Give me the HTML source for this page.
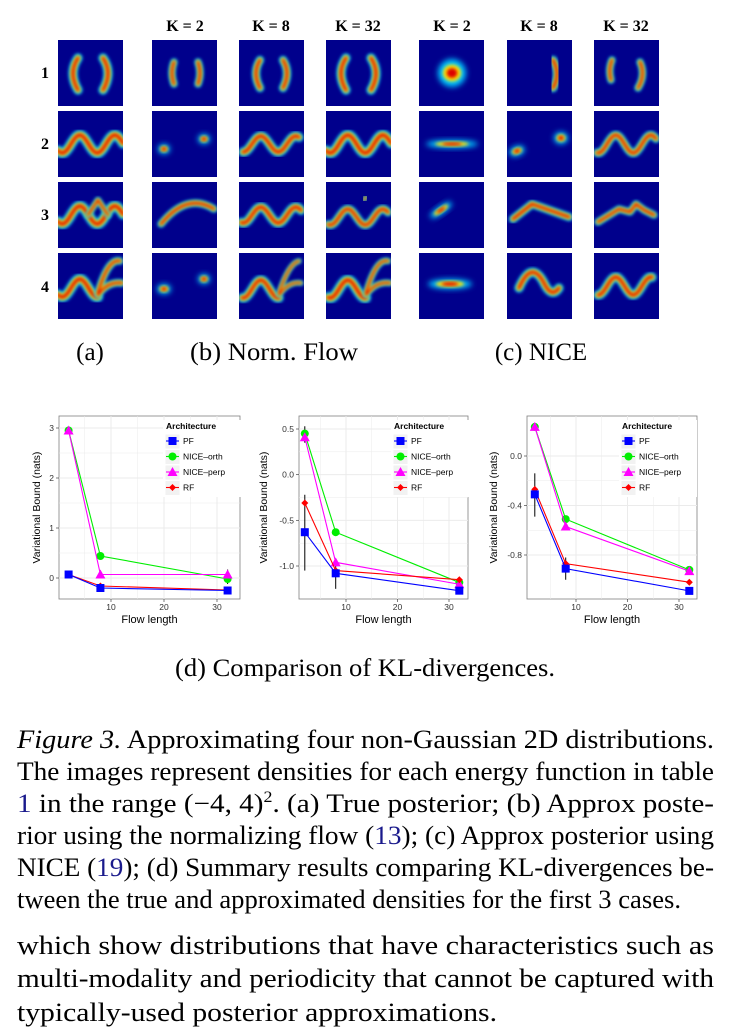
<!DOCTYPE html>
<html><head><meta charset="utf-8">
<style>
html,body{margin:0;padding:0;background:#fff;}
svg{display:block;}
.ser{font-family:"Liberation Serif",serif;}
.sans{font-family:"Liberation Sans",sans-serif;}
</style></head>
<body>
<svg id="root" width="740" height="1036" viewBox="0 0 740 1036" xmlns="http://www.w3.org/2000/svg">
<defs>
<filter id="bl" x="-30%" y="-30%" width="160%" height="160%"><feGaussianBlur stdDeviation="1.6"/></filter>
<filter id="bl2" x="-50%" y="-50%" width="200%" height="200%"><feGaussianBlur stdDeviation="3"/></filter>
</defs>
<g id="tiles"></g>
<g class="ser" font-weight="bold" font-size="16" fill="#000" text-anchor="middle">
<text x="185" y="31">K = 2</text>
<text x="271" y="31">K = 8</text>
<text x="358" y="31">K = 32</text>
<text x="452" y="31">K = 2</text>
<text x="539" y="31">K = 8</text>
<text x="626" y="31">K = 32</text>
<text x="45" y="78">1</text>
<text x="45" y="149">2</text>
<text x="45" y="220">3</text>
<text x="45" y="292">4</text>
</g>
<g class="ser" font-size="25" fill="#000" text-anchor="middle">
<text x="90" y="360">(a)</text>
<text x="274" y="360" textLength="168" lengthAdjust="spacingAndGlyphs">(b) Norm. Flow</text>
<text x="541" y="360">(c) NICE</text>
<text x="365" y="676" textLength="380" lengthAdjust="spacingAndGlyphs">(d) Comparison of KL-divergences.</text>
</g>
<g id="charts" class="sans"></g>
<g class="ser" font-size="26" fill="#000">
<text x="17" y="748" textLength="697" lengthAdjust="spacingAndGlyphs"><tspan font-style="italic">Figure 3.</tspan> Approximating four non-Gaussian 2D distributions.</text>
<text x="17" y="780" textLength="697" lengthAdjust="spacingAndGlyphs">The images represent densities for each energy function in table</text>
<text x="17" y="812" textLength="697" lengthAdjust="spacingAndGlyphs"><tspan fill="#1a1a8c">1</tspan> in the range (−4, 4)<tspan font-size="16" dy="-10">2</tspan><tspan dy="10">.  (a) True posterior; (b) Approx poste-</tspan></text>
<text x="17" y="844" textLength="697" lengthAdjust="spacingAndGlyphs">rior using the normalizing flow (<tspan fill="#1a1a8c">13</tspan>); (c) Approx posterior using</text>
<text x="17" y="876" textLength="697" lengthAdjust="spacingAndGlyphs">NICE (<tspan fill="#1a1a8c">19</tspan>); (d) Summary results comparing KL-divergences be-</text>
<text x="17" y="908" textLength="664" lengthAdjust="spacingAndGlyphs">tween the true and approximated densities for the first 3 cases.</text>
</g>
<g class="ser" font-size="26" fill="#000">
<text x="17" y="954" textLength="697" lengthAdjust="spacingAndGlyphs">which show distributions that have characteristics such as</text>
<text x="17" y="987" textLength="697" lengthAdjust="spacingAndGlyphs">multi-modality and periodicity that cannot be captured with</text>
<text x="17" y="1021" textLength="480" lengthAdjust="spacingAndGlyphs">typically-used posterior approximations.</text>
</g>
</svg>
<script>
// ===== Chart data =====
const flowLength = [2, 8, 32];
const chartNames = ["kl-chart-1", "kl-chart-2", "kl-chart-3"];
const seriesNames = ["PF", "NICE–orth", "NICE–perp", "RF"];
const xTicks = [10, 20, 30];
const yTicks1 = [0, 1, 2, 3];
const yTickLabels1 = ["0", "1", "2", "3"];
const yTicks2 = [0.5, 0.0, -0.5, -1.0];
const yTickLabels2 = ["0.5", "0.0", "-0.5", "-1.0"];
const yTicks3 = [0.0, -0.4, -0.8];
const yTickLabels3 = ["0.0", "-0.4", "-0.8"];
// chart 1 values
const pf1 = [0.07, -0.20, -0.25];
const orth1 = [2.95, 0.44, -0.02];
const perp1 = [2.95, 0.07, 0.07];
const rf1 = [0.07, -0.16, -0.24];
// chart 2 values
const pf2 = [-0.63, -1.08, -1.27];
const orth2 = [0.45, -0.63, -1.18];
const perp2 = [0.41, -0.96, -1.20];
const rf2 = [-0.31, -1.05, -1.15];
// chart 3 values
const pf3 = [-0.31, -0.91, -1.09];
const orth3 = [0.235, -0.51, -0.92];
const perp3 = [0.235, -0.57, -0.93];
const rf3 = [-0.27, -0.87, -1.02];
// error bars
const err1x = [32];
const err1lo = [-0.12];
const err1hi = [0.17];
const err2x = [2, 8, 2];
const err2lo = [-1.05, -1.25, 0.35];
const err2hi = [-0.22, -0.97, 0.53];
const err3x = [2, 8];
const err3lo = [-0.49, -1.0];
const err3hi = [-0.14, -0.82];

const NS = "http://www.w3.org/2000/svg";
function mk(tag, attrs, parent) {
  const e = document.createElementNS(NS, tag);
  for (const k in attrs) e.setAttribute(k, attrs[k]);
  if (parent) parent.appendChild(e);
  return e;
}
const colors = ["#0000ff", "#00ee00", "#ff00ff", "#ff0000"];

function drawMarker(g, kind, x, y, c) {
  let m;
  if (kind === 0) m = mk("rect", {x: x-4, y: y-4, width: 8, height: 8, fill: c}, g);
  else if (kind === 1) m = mk("circle", {cx: x, cy: y, r: 4, fill: c}, g);
  else if (kind === 2) m = mk("path", {d: `M${x},${y-5} L${x+5},${y+4} L${x-5},${y+4}Z`, fill: c}, g);
  else m = mk("path", {d: `M${x},${y-3.5} L${x+3.5},${y} L${x},${y+3.5} L${x-3.5},${y}Z`, fill: c}, g);
  return m;
}

function drawChart(cfg) {
  const root = document.getElementById("charts");
  const g = mk("g", {}, root);
  
  
  const L = cfg.left, R = cfg.right, T = 416, B = 599;
  const sx = v => cfg.x10 + (v - 10) * (cfg.x30 - cfg.x10) / 20;
  const sy = v => cfg.py0 + (v - cfg.v0) * (cfg.py1 - cfg.py0) / (cfg.v1 - cfg.v0);
  mk("rect", {x: L, y: T, width: R-L, height: B-T, fill: "#fff", stroke: "#7f7f7f", "stroke-width": 0.8}, g);
  const gg = mk("g", {stroke: "#ebebeb"}, g);
  
  
  [5,15,25].forEach(v => mk("line", {x1: sx(v), x2: sx(v), y1: T, y2: B, "stroke-width": 0.5}, gg));
  xTicks.forEach(v => mk("line", {x1: sx(v), x2: sx(v), y1: T, y2: B, "stroke-width": 1}, gg));
  for (let i = 0; i < cfg.yt.length; i++) {
    mk("line", {x1: L, x2: R, y1: sy(cfg.yt[i]), y2: sy(cfg.yt[i]), "stroke-width": 1}, gg);
    if (i < cfg.yt.length - 1) { const m = (cfg.yt[i] + cfg.yt[i+1]) / 2; mk("line", {x1: L, x2: R, y1: sy(m), y2: sy(m), "stroke-width": 0.5}, gg); }
  }
  for (let i = 0; i < cfg.yt.length; i++) {
    const y = sy(cfg.yt[i]);
    mk("line", {x1: L-3, x2: L, y1: y, y2: y, stroke: "#444", "stroke-width": 0.7}, g);
    const t = mk("text", {x: L-5, y: y+3, "font-size": 8.5, "text-anchor": "end", fill: "#333"}, g);
    t.textContent = cfg.ytl[i];
    
    
  }
  xTicks.forEach(v => {
    mk("line", {x1: sx(v), x2: sx(v), y1: B, y2: B+3, stroke: "#444", "stroke-width": 0.7}, g);
    const t = mk("text", {x: sx(v), y: B+11, "font-size": 8.5, "text-anchor": "middle", fill: "#333"}, g);
    t.textContent = v;
    
    
  });
  const xt = mk("text", {x: (L+R)/2, y: B+24, "font-size": 11, "text-anchor": "middle"}, g);
  xt.textContent = "Flow length";
  
  
  const yx = cfg.yTitleX, ym = (T+B)/2;
  const yt = mk("text", {x: yx, y: ym, "font-size": 10.5, "text-anchor": "middle", transform: `rotate(-90 ${yx} ${ym})`}, g);
  yt.textContent = "Variational Bound (nats)";
  
  
  for (let i = 0; i < cfg.ex.length; i++) {
    const e = mk("line", {x1: sx(cfg.ex[i]), x2: sx(cfg.ex[i]), y1: sy(cfg.elo[i]), y2: sy(cfg.ehi[i]), stroke: "#000", "stroke-width": 1}, g);
    
    
  }
  const order = [1, 2, 3, 0];
  order.forEach(si => {
    const vals = cfg.series[si];
    const sg = mk("g", {}, g);
    
    
    const pts = flowLength.map((f, i) => sx(f) + "," + sy(vals[i])).join(" ");
    mk("polyline", {points: pts, fill: "none", stroke: colors[si], "stroke-width": 1.1}, sg);
    flowLength.forEach((f, i) => {
      const m = drawMarker(sg, si, sx(f), sy(vals[i]), colors[si]);
      
      
    });
  });
  const lg = mk("g", {}, g);
  
  
  const lx = cfg.legX, ly = 420;
  mk("rect", {x: lx-3, y: ly, width: 78, height: 77, fill: "#fff"}, lg);
  const lt = mk("text", {x: lx, y: ly+9, "font-size": 8.5, "font-weight": "bold"}, lg);
  lt.textContent = "Architecture";
  
  
  for (let i = 0; i < 4; i++) {
    const ey = ly + 21 + i * 15.5;
    const eg = mk("g", {}, lg);
    
    
    mk("rect", {x: lx-1, y: ey-7, width: 15, height: 15, fill: "#f2f2f2", stroke: "#fff"}, eg);
    mk("line", {x1: lx, x2: lx+13, y1: ey, y2: ey, stroke: colors[i], "stroke-width": 1.1}, eg);
    drawMarker(eg, i, lx+6.5, ey, colors[i]);
    const t = mk("text", {x: lx+17, y: ey+3, "font-size": 8.5}, eg);
    t.textContent = seriesNames[i];
  }
}

drawChart({name: chartNames[0], left: 59, right: 240, x10: 111, x30: 217, v0: 3, py0: 428, v1: 0, py1: 578,
  yt: yTicks1, ytl: yTickLabels1, series: [pf1, orth1, perp1, rf1], ex: err1x, elo: err1lo, ehi: err1hi, legX: 166, yTitleX: 40});
drawChart({name: chartNames[1], left: 299, right: 468, x10: 346, x30: 449, v0: 0.5, py0: 429, v1: -1.0, py1: 566,
  yt: yTicks2, ytl: yTickLabels2, series: [pf2, orth2, perp2, rf2], ex: err2x, elo: err2lo, ehi: err2hi, legX: 394, yTitleX: 267});
drawChart({name: chartNames[2], left: 527, right: 697, x10: 576, x30: 679, v0: 0.0, py0: 456, v1: -0.8, py1: 555,
  yt: yTicks3, ytl: yTickLabels3, series: [pf3, orth3, perp3, rf3], ex: err3x, elo: err3lo, ehi: err3hi, legX: 622, yTitleX: 497});

// ===== Density tiles =====
const colX = [58, 152, 239, 326, 419, 507, 594];
const rowY = [40, 111, 182, 253];
const tiles = document.getElementById("tiles");
function sinePts(x0, x1, amp, off, per, cy) {
  let p = [];
  for (let x = x0; x <= x1; x += 1) p.push(x + "," + (cy - amp * Math.sin(2 * Math.PI * (x - off) / per)).toFixed(1));
  return "M" + p.join(" L");
}
function jet(g, d, w) {
  mk("path", {d: d, fill: "none", stroke: "#00c8ff", "stroke-width": w, "stroke-linecap": "round", "stroke-linejoin": "round", filter: "url(#bl)"}, g);
  mk("path", {d: d, fill: "none", stroke: "#ffe000", "stroke-width": w * 0.6, "stroke-linecap": "round", "stroke-linejoin": "round", filter: "url(#bl)"}, g);
  mk("path", {d: d, fill: "none", stroke: "#dd0000", "stroke-width": w * 0.3, "stroke-linecap": "round", "stroke-linejoin": "round", filter: "url(#bl)"}, g);
}
function blob(g, cx, cy, rx, ry, rot) {
  const t = `rotate(${rot||0} ${cx} ${cy})`;
  mk("ellipse", {cx, cy, rx, ry, fill: "#00c8ff", transform: t, filter: "url(#bl2)"}, g);
  mk("ellipse", {cx, cy, rx: rx*0.65, ry: ry*0.6, fill: "#ffe000", transform: t, filter: "url(#bl)"}, g);
  mk("ellipse", {cx, cy, rx: rx*0.38, ry: ry*0.35, fill: "#dd0000", transform: t, filter: "url(#bl)"}, g);
}
const arcs = "M20,18 Q10,33 20,50 M45,18 Q55,33 45,50";
const sine = sinePts(0, 65, 9, 13, 35, 33);
const tileDefs = [
  [g => jet(g, arcs, 9), g => jet(g, "M22,22 Q18,33 22,44 M46,22 Q50,33 46,44", 7), g => jet(g, "M21,20 Q13,33 21,48 M44,20 Q52,33 44,48", 8), g => jet(g, arcs, 9),
   g => blob(g, 33, 33, 14, 14), g => jet(g, "M46,20 Q54,34 46,48", 8), g => jet(g, "M18,20 Q14,30 17,40 M46,22 Q52,35 44,48", 7)],
  [g => jet(g, sine, 10), g => { blob(g, 12, 38, 6, 5); blob(g, 52, 28, 6, 5); }, g => jet(g, sinePts(4, 60, 8, 13, 35, 33), 9), g => jet(g, sine, 10),
   g => blob(g, 33, 33, 26, 4), g => { blob(g, 10, 40, 8, 5, -20); blob(g, 54, 27, 7, 6); }, g => jet(g, sinePts(3, 62, 9, 13, 35, 33), 8)],
  [g => { jet(g, sine, 10); jet(g, "M30,33 L40,18 L50,33", 6); }, g => jet(g, "M9,42 Q35,10 62,27", 7), g => jet(g, sinePts(2, 62, 8, 13, 35, 33), 9), g => { jet(g, sinePts(2, 62, 8, 13, 35, 35), 8); jet(g, "M38,18 L40,15", 4); },
   g => blob(g, 22, 28, 13, 4, -35), g => jet(g, "M6,37 L25,22 L62,35", 8), g => jet(g, "M4,40 L25,27 L36,30 L42,22 L50,28 L60,33", 7)],
  [g => { jet(g, sinePts(0, 40, 9, 13, 35, 35), 10); jet(g, "M40,40 Q50,5 62,8 M40,42 Q50,28 64,30", 7); }, g => { blob(g, 12, 36, 7, 5); blob(g, 52, 26, 6, 5); }, g => { jet(g, sinePts(3, 40, 9, 13, 35, 36), 9); jet(g, "M40,40 Q50,10 60,8 M40,42 Q50,28 62,30", 5); }, g => { jet(g, sinePts(2, 40, 9, 13, 35, 36), 10); jet(g, "M40,40 Q50,5 62,8 M40,42 Q50,28 64,30", 6); },
   g => blob(g, 31, 31, 22, 5), g => jet(g, "M12,35 Q25,5 38,32 Q45,45 52,35", 9), g => jet(g, sinePts(4, 58, 9, 13, 35, 33), 9)]
];
const tileNames = ["true-posterior", "norm-flow-k2", "norm-flow-k8", "norm-flow-k32", "nice-k2", "nice-k8", "nice-k32"];
for (let r = 0; r < 4; r++) {
  for (let c = 0; c < 7; c++) {
    const g = mk("g", {transform: `translate(${colX[c]},${rowY[r]})`}, tiles);
    
    
    const cp = "cp" + r + "_" + c;
    const clip = mk("clipPath", {id: cp}, g);
    mk("rect", {x: 0, y: 0, width: 65, height: 66}, clip);
    mk("rect", {x: 0, y: 0, width: 65, height: 66, fill: "#00008c"}, g);
    const inner = mk("g", {"clip-path": `url(#${cp})`}, g);
    tileDefs[r][c](inner);
  }
}
</script>
</body></html>
